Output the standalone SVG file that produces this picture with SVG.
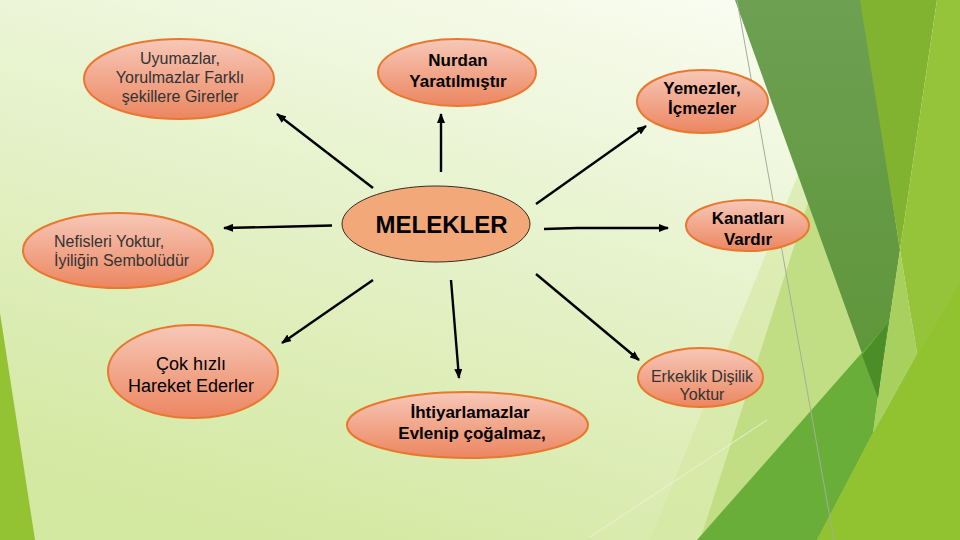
<svg xmlns="http://www.w3.org/2000/svg" width="960" height="540" viewBox="0 0 960 540">
<defs>
  <linearGradient id="bg" x1="0.75" y1="0" x2="0.25" y2="1">
    <stop offset="0" stop-color="#f9fcf0"/>
    <stop offset="0.45" stop-color="#e6f2cb"/>
    <stop offset="1" stop-color="#d3e8a0"/>
  </linearGradient>
  <linearGradient id="nodeFill" x1="0" y1="0" x2="0" y2="1">
    <stop offset="0" stop-color="#f7c8b8"/>
    <stop offset="1" stop-color="#ec8660"/>
  </linearGradient>
  <linearGradient id="darkFill" x1="0" y1="0" x2="0" y2="1">
    <stop offset="0" stop-color="#6da052"/>
    <stop offset="1" stop-color="#5e9538"/>
  </linearGradient>
  <marker id="arrow" markerUnits="userSpaceOnUse" markerWidth="10" markerHeight="8" refX="9" refY="4" orient="auto">
    <path d="M0,0 L10,4 L0,8 z" fill="#000"/>
  </marker>
  <style>
    .node { fill: url(#nodeFill); stroke: #e8782e; stroke-width: 2; }
    .center { fill: #f2a878; stroke: #3a2a20; stroke-width: 1; }
    .t { font-family: "Liberation Sans", Arial, sans-serif; text-anchor: middle; }
    .reg { font-size: 16px; fill: #333333; }
    .bold { font-size: 17px; font-weight: bold; fill: #000; }
    .mid { font-size: 18px; fill: #000; }
    .conn { stroke: #000; stroke-width: 2.4; fill: none; marker-end: url(#arrow); }
  </style>
</defs>

<g id="background">
  <rect x="0" y="0" width="960" height="540" fill="url(#bg)"/>
  <polygon points="800,170 812,190 700,540 650,540" fill="#d3e8a0" opacity="0.6"/>
  <polygon points="812,190 870,380 700,540" fill="#c2de85"/>
  <line x1="590" y1="537" x2="767" y2="420" stroke="#eef6dd" stroke-width="1" opacity="0.8"/>
  <polygon points="735,0 862,0 900,250 878,398" fill="url(#darkFill)"/>
  <polygon points="860,0 937,0 900,250" fill="#82b330"/>
  <polygon points="937,0 960,0 960,540 817,540 873,433 917,353 900,250" fill="#95c43b"/>
  <polygon points="900,250 917,353 873,433 878,398" fill="#a8d05e"/>
  <polygon points="697,540 888,323 873,433 817,540" fill="#6aae3a"/>
  <polygon points="862,355 888,323 878,398" fill="#4b8e27"/>
  <polygon points="817,540 873,433 960,283 960,540" fill="#91c22f"/>
  <polygon points="0,313 35,540 0,540" fill="#93c232"/>
  <line x1="737" y1="0" x2="834" y2="540" stroke="#a4ad9c" stroke-width="1"/>
</g>

<g id="connectors">
  <line class="conn" x1="373" y1="188" x2="277" y2="114"/>
  <line class="conn" x1="441" y1="172" x2="441" y2="114"/>
  <polyline class="conn" points="332,225.5 292,226.5 224,228"/>
  <line class="conn" x1="536" y1="204" x2="646" y2="126"/>
  <polyline class="conn" points="544,229 577,228 668,228"/>
  <line class="conn" x1="373" y1="280" x2="282" y2="343"/>
  <line class="conn" x1="451" y1="280" x2="459" y2="378"/>
  <line class="conn" x1="536" y1="274" x2="639" y2="360"/>
</g>

<g id="node-melekler">
  <ellipse class="center" cx="436" cy="224" rx="94" ry="38"/>
  <text class="t" x="441.5" y="233" style="font-size:24px;font-weight:bold;fill:#000">MELEKLER</text>
</g>

<g id="node-uyumazlar">
  <ellipse class="node" cx="179" cy="79" rx="95" ry="40"/>
  <text class="t reg" x="180" y="64">Uyumazlar,</text>
  <text class="t reg" x="180" y="83">Yorulmazlar Farklı</text>
  <text class="t reg" x="180" y="102">şekillere Girerler</text>
</g>

<g id="node-nurdan">
  <ellipse class="node" cx="457" cy="72.5" rx="79" ry="33.5"/>
  <text class="t bold" x="458" y="66">Nurdan</text>
  <text class="t bold" x="458" y="87">Yaratılmıştır</text>
</g>

<g id="node-yemezler">
  <ellipse class="node" cx="702.5" cy="101.5" rx="65.5" ry="31.5"/>
  <text class="t bold" x="702" y="94">Yemezler,</text>
  <text class="t bold" x="702" y="114">İçmezler</text>
</g>

<g id="node-nefisleri">
  <ellipse class="node" cx="118" cy="250.5" rx="95" ry="37.5"/>
  <text class="reg" x="54" y="247" style="font-family:'Liberation Sans',Arial,sans-serif">Nefisleri Yoktur,</text>
  <text class="reg" x="54" y="266" style="font-family:'Liberation Sans',Arial,sans-serif">İyiliğin Sembolüdür</text>
</g>

<g id="node-kanatlari">
  <ellipse class="node" cx="747.5" cy="225.5" rx="61.5" ry="25.5"/>
  <text class="t bold" x="748" y="224">Kanatları</text>
  <text class="t bold" x="748" y="245">Vardır</text>
</g>

<g id="node-cok-hizli">
  <ellipse class="node" cx="193" cy="371.5" rx="85" ry="46.5"/>
  <text class="t mid" x="191" y="370">Çok hızlı</text>
  <text class="t mid" x="191" y="392">Hareket Ederler</text>
</g>

<g id="node-ihtiyarlamazlar">
  <ellipse class="node" cx="467.5" cy="425" rx="120.5" ry="33"/>
  <text class="t bold" x="470" y="418">İhtiyarlamazlar</text>
  <text class="t bold" x="472" y="439">Evlenip çoğalmaz,</text>
</g>

<g id="node-erkeklik">
  <ellipse class="node" cx="700.5" cy="377.5" rx="62.5" ry="29.5"/>
  <text class="t reg" x="702" y="382">Erkeklik Dişilik</text>
  <text class="t reg" x="702" y="400">Yoktur</text>
</g>
</svg>
